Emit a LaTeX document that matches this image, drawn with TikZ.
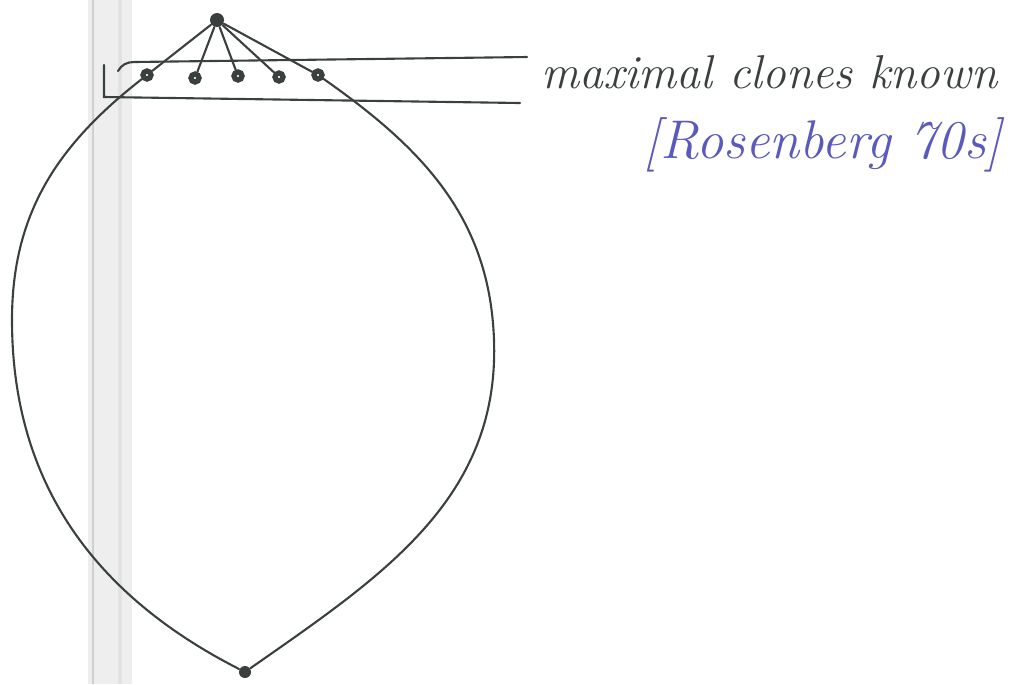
\documentclass[tikz,border=0pt]{standalone}
\usepackage{tikz}
\usetikzlibrary{positioning}
\definecolor{penink}{RGB}{58,64,62}
\definecolor{penblue}{RGB}{90,90,190}
\definecolor{margin}{RGB}{226,226,228}
\begin{document}
\begin{tikzpicture}[
  x=0.01cm, y=-0.01cm,
  pen/.style={draw=penink, line width=0.6pt, line cap=round},
  topdot/.style={circle, fill=penink, inner sep=0pt, minimum size=0.14cm},
  coatom/.style={circle, draw=penink, line width=1.5pt, inner sep=0pt, minimum size=0.08cm},
  note/.style={font=\fontsize{13.5}{16}\selectfont\itshape, inner sep=0pt}
]
\useasboundingbox (0,0) rectangle (1010,684);
\fill[margin!60] (88,0) rectangle (132,684);
\draw[margin!60!black!40, line width=0.5pt] (93,0) -- (93,684);
\draw[margin, line width=1.2pt] (120,0) -- (120,684);
\node[topdot] (top) at (217,20) {};
\node[coatom] (c1) at (147,75) {};
\node[coatom] (c2) at (195,78) {};
\node[coatom] (c3) at (238,76) {};
\node[coatom] (c4) at (279,77) {};
\node[coatom] (c5) at (318,75) {};
\node[topdot, minimum size=0.12cm] (bot) at (245,672) {};
\coordinate (west) at (12,320);
\coordinate (east) at (494,340);
\foreach \i in {1,...,5} \draw[pen] (top) -- (c\i);
\draw[pen] (c1) to[out=218,in=90] (west) to[out=-90,in=153] (bot);
\draw[pen] (c5) to[out=-35,in=92] (east) to[out=-88,in=35] (bot);
\draw[pen] (104,65) -- (104,97) -- (520,103);
\draw[pen] (118,71) to[out=60,in=180] (134,62) -- (527,57);
\node[note, text=penink, anchor=east] (clones) at (998,72) {maximal clones known};
\node[note, text=penblue, anchor=east, font=\fontsize{15.5}{18}\selectfont\itshape] (ref) at (1003,145) {[Rosenberg 70s]};
\end{tikzpicture}
\end{document}
